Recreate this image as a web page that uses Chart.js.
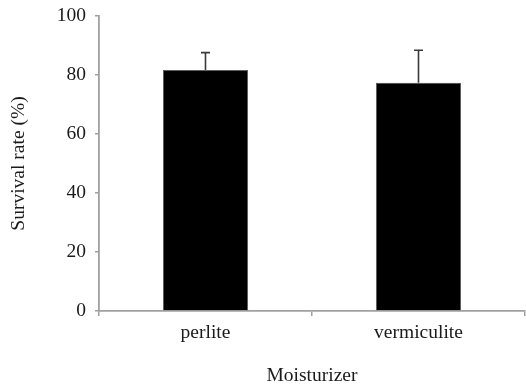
<!DOCTYPE html>
<html>
<head>
<meta charset="utf-8">
<script src="https://cdn.jsdelivr.net/npm/chart.js@4"></script>
<style>
  html, body { margin: 0; padding: 0; background: #fff; }
  #wrap { width: 526px; height: 386px; }
</style>
</head>
<body>
<div id="wrap"><canvas id="c" width="526" height="386"></canvas></div>
<script>
const categories = ['perlite', 'vermiculite'];
const survivalRate = [81.7, 77.4];
const errorUpper = [5.9, 11.0];
const yTicks = [0, 20, 40, 60, 80, 100];

const FONT = 'Liberation Serif';
const FSIZE = 19.5;
const TXT = '#1a1a1a';
const AXIS = '#a0a0a0';

const errorBarPlugin = {
  id: 'errorBars',
  afterDatasetsDraw(chart) {
    const meta = chart.getDatasetMeta(0);
    const yScale = chart.scales.y;
    const ctx = chart.ctx;
    ctx.save();
    ctx.strokeStyle = '#3a3a3a';
    ctx.lineWidth = 1.6;
    meta.data.forEach((el, i) => {
      const top = yScale.getPixelForValue(survivalRate[i] + errorUpper[i]);
      const x = el.x;
      ctx.beginPath();
      ctx.moveTo(x, el.y);
      ctx.lineTo(x, top);
      ctx.moveTo(x - 4.5, top);
      ctx.lineTo(x + 4.5, top);
      ctx.stroke();
    });
    ctx.restore();
  }
};

new Chart(document.getElementById('c'), {
  type: 'bar',
  data: {
    labels: categories,
    datasets: [{
      data: survivalRate,
      backgroundColor: '#000000',
      borderColor: '#555555',
      borderWidth: 0.8,
      barPercentage: 1.0,
      categoryPercentage: 0.4
    }]
  },
  options: {
    responsive: false,
    animation: false,
    devicePixelRatio: 1,
    layout: { padding: { top: 16, right: 1, left: 0, bottom: 0 } },
    plugins: { legend: { display: false }, tooltip: { enabled: false } },
    scales: {
      x: {
        offset: true,
        grid: {
          offset: true,
          drawOnChartArea: false,
          drawTicks: true,
          tickLength: 5,
          color: AXIS,
          lineWidth: 1.5
        },
        border: { color: AXIS, width: 1.8 },
        ticks: {
          color: TXT,
          padding: 5,
          font: { family: FONT, size: FSIZE }
        },
        title: {
          display: true,
          text: 'Moisturizer',
          color: TXT,
          padding: { top: 0, bottom: 0 },
          font: { family: FONT, size: FSIZE, lineHeight: 1.0 }
        },
        afterFit(scale) { scale.height = 75; scale.paddingLeft = 0; scale.paddingRight = 0; }
      },
      y: {
        min: 0,
        max: 100,
        afterBuildTicks(scale) { scale.ticks = yTicks.map(v => ({ value: v })); },
        grid: {
          drawOnChartArea: false,
          drawTicks: true,
          tickLength: 4,
          color: AXIS,
          lineWidth: 1.5
        },
        border: { color: AXIS, width: 1.8 },
        ticks: {
          color: TXT,
          padding: 9,
          font: { family: FONT, size: FSIZE }
        },
        title: {
          display: true,
          text: 'Survival rate (%)',
          color: TXT,
          padding: { top: 7, bottom: 0 },
          font: { family: FONT, size: FSIZE }
        },
        afterFit(scale) { scale.width = 99; scale.paddingTop = 0; scale.paddingBottom = 0; }
      }
    }
  },
  plugins: [errorBarPlugin]
});
</script>
</body>
</html>
